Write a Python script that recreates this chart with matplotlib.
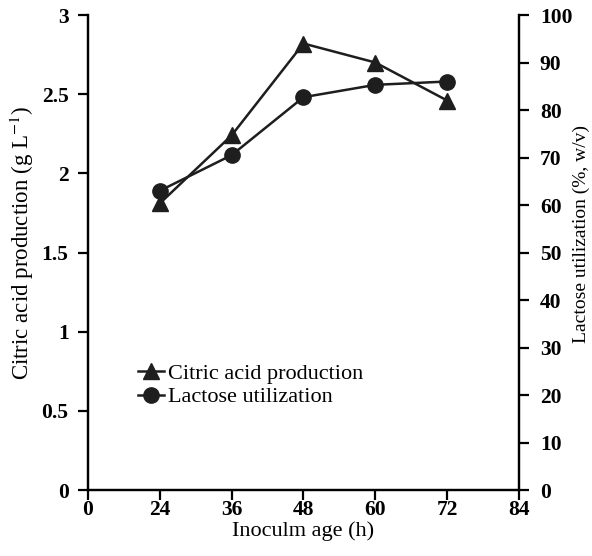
import matplotlib.pyplot as plt

plt.rcParams['font.family'] = ['Liberation Serif', 'DejaVu Serif']
plt.rcParams['mathtext.fontset'] = 'stix'

# x tick labels are evenly spaced categories
x_labels = ['0', '24', '36', '48', '60', '72', '84']
ages = ['24', '36', '48', '60', '72']
citric = [1.81, 2.24, 2.82, 2.70, 2.46]        # g/L, left axis
lactose = [63.0, 70.5, 82.7, 85.3, 86.0]       # %, right axis

xpos = [x_labels.index(a) for a in ages]
ink = '#1e1e1e'

fig = plt.figure(figsize=(5.92, 5.56), dpi=100)
ax = fig.add_axes([0.1486, 0.1187, 0.7281, 0.8543])
ax2 = ax.twinx()

l1, = ax.plot(xpos, citric, color=ink, lw=1.8, marker='^', ms=12,
              label='Citric acid production')
l2, = ax2.plot(xpos, lactose, color=ink, lw=1.8, marker='o', ms=11,
               label='Lactose utilization')

ax.set_xlim(0, 6)
ax.set_ylim(0, 3)
ax2.set_ylim(0, 100)
ax.set_xticks(range(len(x_labels)))
ax.set_xticklabels(x_labels)
ax.set_yticks([0, 0.5, 1, 1.5, 2, 2.5, 3])
ax.set_yticklabels(['0', '0.5', '1', '1.5', '2', '2.5', '3'])
ax2.set_yticks(range(0, 101, 10))

for a in (ax, ax2):
    a.spines['top'].set_visible(False)
    for s in a.spines.values():
        s.set_linewidth(1.6)
    a.tick_params(width=1.6, length=7, labelsize=15.5)
    for t in a.get_xticklabels() + a.get_yticklabels():
        t.set_fontweight('bold')
ax.tick_params(axis='x', pad=0)
ax.tick_params(axis='y', pad=7)
ax2.tick_params(axis='y', pad=8)

ax.set_xlabel('Inoculm age (h)', fontsize=16, labelpad=1)
ax.set_ylabel('Citric acid production (g L$^{-1}$)', fontsize=16.5, labelpad=4)
ax.yaxis.label.set_y(0.52)
ax2.set_ylabel('Lactose utilization (%, w/v)', fontsize=14, labelpad=0)
ax2.yaxis.label.set_y(0.54)

ax.legend(handles=[l1, l2], loc='upper left', bbox_to_anchor=(0.095, 0.286),
          frameon=False, fontsize=16, handlelength=1.2, handletextpad=0.15,
          labelspacing=0.15, borderaxespad=0)

fig.savefig('out.png', dpi=100)
